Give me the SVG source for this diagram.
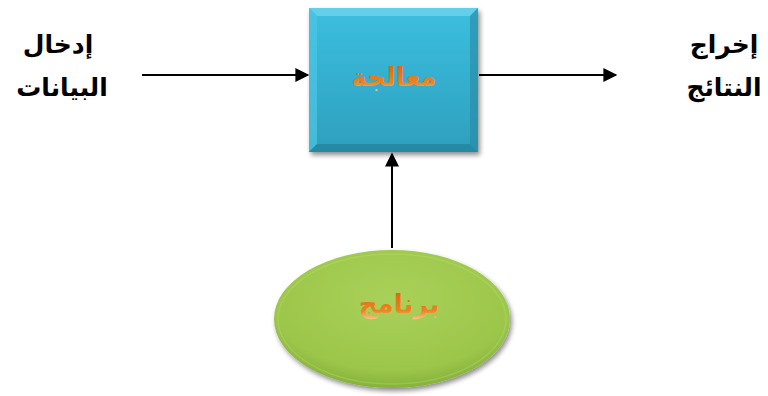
<svg xmlns="http://www.w3.org/2000/svg" width="768" height="396" viewBox="0 0 768 396">
  <style>
    .label { font-family: "DejaVu Sans", "Liberation Sans", sans-serif; font-weight: bold; font-size: 25px; fill: #000; text-anchor: middle; }
    .inner { font-family: "DejaVu Sans", "Liberation Sans", sans-serif; font-weight: bold; font-size: 26px; fill: url(#orangeText); text-anchor: middle; }
    .edge { stroke: #000; stroke-width: 2; fill: none; }
  </style>
  <defs>
    <marker id="arrowBig" viewBox="0 0 10 10" refX="9" refY="5" markerWidth="16" markerHeight="14" markerUnits="userSpaceOnUse" orient="auto">
      <path d="M0,0 L10,5 L0,10 z" fill="#000"/>
    </marker>
    <linearGradient id="boxFill" x1="0" y1="0" x2="0" y2="1">
      <stop offset="0" stop-color="#3cbfe0"/>
      <stop offset="1" stop-color="#2e9fbd"/>
    </linearGradient>
    <radialGradient id="ovalFill" cx="0.5" cy="0.35" r="0.65">
      <stop offset="0" stop-color="#a9d15a"/>
      <stop offset="0.8" stop-color="#9cc64a"/>
      <stop offset="1" stop-color="#86b23a"/>
    </radialGradient>
    <linearGradient id="orangeText" x1="0" y1="0" x2="0" y2="1">
      <stop offset="0" stop-color="#d9650a"/>
      <stop offset="0.7" stop-color="#ec8420"/>
      <stop offset="1" stop-color="#f9c894"/>
    </linearGradient>
    <filter id="shadow" x="-10%" y="-10%" width="130%" height="130%">
      <feGaussianBlur in="SourceAlpha" stdDeviation="2.5"/>
      <feOffset dx="2" dy="3"/>
      <feComponentTransfer><feFuncA type="linear" slope="0.45"/></feComponentTransfer>
      <feMerge><feMergeNode/><feMergeNode in="SourceGraphic"/></feMerge>
    </filter>
  </defs>

  <!-- connectors -->
  <g id="connectors">
    <line class="edge" x1="142" y1="75" x2="308" y2="75" marker-end="url(#arrowBig)"/>
    <line class="edge" x1="479" y1="75" x2="616" y2="75" marker-end="url(#arrowBig)"/>
    <line class="edge" x1="392" y1="248" x2="392" y2="154" marker-end="url(#arrowBig)"/>
  </g>

  <!-- input label -->
  <g id="input">
    <text class="label" x="58" y="53">إدخال</text>
    <text class="label" x="62" y="96">البيانات</text>
  </g>

  <!-- output label -->
  <g id="output">
    <text class="label" x="724" y="53">إخراج</text>
    <text class="label" x="724" y="96">النتائج</text>
  </g>

  <!-- processing box with bevelled edges -->
  <g id="processing">
    <rect x="309" y="8" width="169" height="144" fill="url(#boxFill)" filter="url(#shadow)"/>
    <polygon points="309,8 478,8 470,16 317,16" fill="#6fd3ec" opacity="0.8"/>
    <polygon points="309,8 317,16 317,144 309,152" fill="#4cc6e4" opacity="0.7"/>
    <polygon points="478,8 478,152 470,144 470,16" fill="#2889a3" opacity="0.6"/>
    <polygon points="309,152 317,144 470,144 478,152" fill="#23809a" opacity="0.7"/>
    <text class="inner" x="394" y="86">معالجة</text>
  </g>

  <!-- program oval -->
  <g id="program">
    <ellipse cx="392" cy="319" rx="118" ry="69" fill="url(#ovalFill)" filter="url(#shadow)"/>
    <ellipse cx="392" cy="319" rx="114" ry="65" fill="none" stroke="#c0e07c" stroke-width="1.5" opacity="0.3"/>
    <text class="inner" x="399" y="313">برنامج</text>
  </g>
</svg>
